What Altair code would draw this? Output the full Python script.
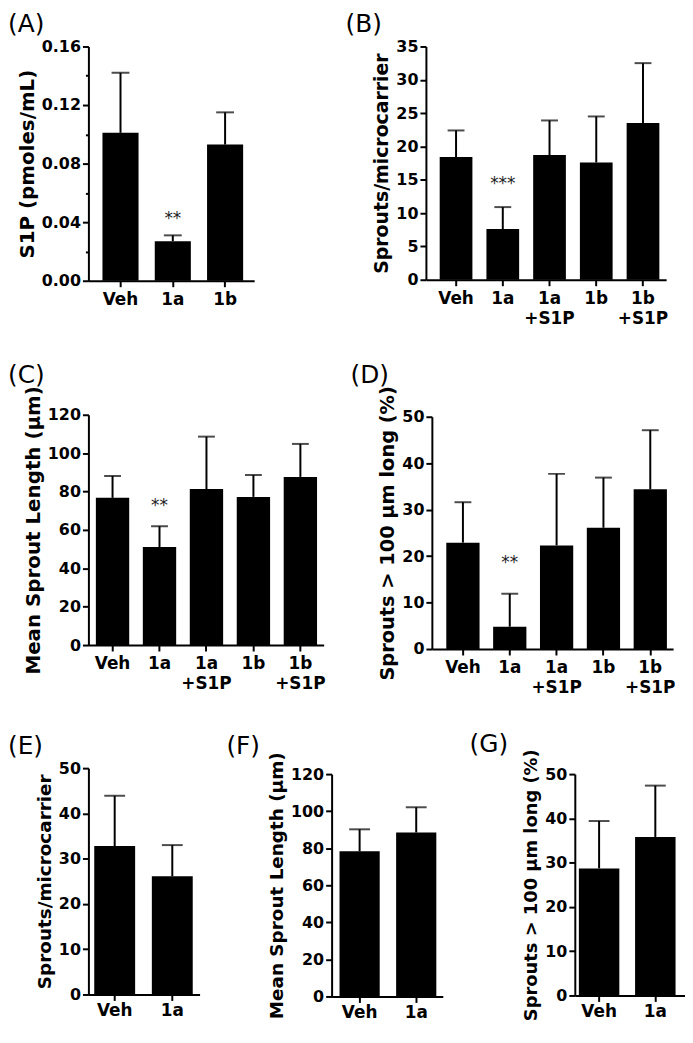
import altair as alt
import pandas as pd

FONT = "DejaVu Sans"

# ---------------- data ----------------
A_groups = ["Veh", "1a", "1b"]
A_mean = [0.101, 0.027, 0.093]
A_err = [0.041, 0.004, 0.022]
A_sig = ["", "**", ""]
A_ticks = [0, 0.04, 0.08, 0.12, 0.16]
A_minor = [0.02, 0.06, 0.10, 0.14]

S_groups = ["Veh", "1a", "1a\n+S1P", "1b", "1b\n+S1P"]

B_mean = [18.4, 7.6, 18.7, 17.6, 23.5]
B_err = [4.0, 3.3, 5.2, 6.9, 9.0]
B_sig = ["", "***", "", "", ""]
B_ticks = [0, 5, 10, 15, 20, 25, 30, 35]

C_mean = [76.7, 51.1, 81.3, 77.2, 87.6]
C_err = [11.4, 10.8, 27.3, 11.4, 17.2]
C_sig = ["", "**", "", "", ""]
C_ticks = [0, 20, 40, 60, 80, 100, 120]

D_mean = [22.9, 4.8, 22.3, 26.1, 34.4]
D_err = [8.7, 7.1, 15.4, 10.8, 12.7]
D_sig = ["", "**", "", "", ""]
D_ticks = [0, 10, 20, 30, 40, 50]

V_groups = ["Veh", "1a"]
E_mean = [32.8, 26.1]
E_err = [11.1, 6.9]
F_mean = [78.3, 88.5]
F_err = [11.9, 13.6]
G_mean = [28.7, 35.8]
G_err = [10.7, 11.6]
V_sig = ["", ""]
E_ticks = [0, 10, 20, 30, 40, 50]
F_ticks = [0, 20, 40, 60, 80, 100, 120]
G_ticks = [0, 10, 20, 30, 40, 50]

T_S1P = "S1P (pmoles/mL)"
T_SPR = "Sprouts/microcarrier"
T_LEN = "Mean Sprout Length (\u03bcm)"
T_PCT = "Sprouts > 100 \u03bcm long (%)"

NO_PAD = {"left": 0, "top": 0, "right": 0, "bottom": 0}


def panel(letter, groups, mean, err, sig, ytitle, ticks, fmt, width, height,
          pad_in, pad_out, align, cap, lx, ly, star_dy=-12.0,
          y_range=None, minor=None, ytitle_size=20, x_lpad=5):
    upper = [m + e for m, e in zip(mean, err)]
    df = pd.DataFrame({"group": groups, "mean": mean, "upper": upper, "sig": sig})
    sc_kw = dict(domain=[ticks[0], ticks[-1]], nice=False, zero=True)
    if y_range is not None:
        sc_kw["range"] = y_range
    yscale = alt.Scale(**sc_kw)
    xenc = alt.X(
        "group:N", sort=groups,
        scale=alt.Scale(paddingInner=pad_in, paddingOuter=pad_out, align=align),
        axis=alt.Axis(title=None, labelAngle=0, labelPadding=x_lpad,
                      labelExpr="split(datum.label, '\\n')"),
    )
    yaxis = alt.Axis(title=ytitle, values=ticks, format=fmt,
                     titleFontSize=ytitle_size)
    base = alt.Chart(df)
    bars = base.mark_bar(color="black").encode(
        x=xenc, y=alt.Y("mean:Q", scale=yscale, axis=yaxis))
    if minor:
        rule_axis = alt.Axis(values=minor, labels=False, domain=False,
                             tickSize=3, title=None, orient="left")
        other_axis = None
    else:
        rule_axis = yaxis
        other_axis = yaxis
    rule = base.mark_rule(color="black", strokeWidth=2).encode(
        x=xenc, y=alt.Y("mean:Q", scale=yscale, axis=rule_axis), y2="upper:Q")
    capm = base.mark_tick(color="black", thickness=2, size=cap).encode(
        x=xenc, y=alt.Y("upper:Q", scale=yscale, axis=other_axis))
    layers = [bars, rule, capm]
    if any(s for s in sig):
        stars = base.transform_filter("datum.sig != ''").mark_text(
            font=FONT, fontSize=17, color="#222222",
            baseline="alphabetic", dy=star_dy).encode(
            x=xenc, y=alt.Y("upper:Q", scale=yscale, axis=other_axis),
            text="sig:N")
        layers.append(stars)
    label = alt.Chart(alt.Data(values=[{"panel": letter}])).mark_text(
        font=FONT, fontSize=25, fontWeight="normal", color="black",
        align="left", baseline="top").encode(
        x=alt.value(lx), y=alt.value(ly), text="panel:N")
    layers.append(label)
    ch = alt.layer(*layers).properties(width=width, height=height)
    if minor:
        ch = ch.resolve_axis(y="independent")
    return ch


A = panel("(A)", A_groups, A_mean, A_err, A_sig, T_S1P, A_ticks, ".2f",
          167, 236, 0.31, 0.24, 0.56, 18, -81, -35, star_dy=-11.5,
          minor=A_minor, ytitle_size=20)
B = panel("(B)", S_groups, B_mean, B_err, B_sig, T_SPR, B_ticks, "d",
          242, 235, 0.30, 0.22, 0.67, 17, -81, -35, star_dy=-18.5,
          ytitle_size=19)
C = panel("(C)", S_groups, C_mean, C_err, C_sig, T_LEN, C_ticks, "d",
          237, 232, 0.29, 0.15, 0.53, 17, -81, -52, star_dy=-15.5,
          ytitle_size=20)
D = panel("(D)", S_groups, D_mean, D_err, D_sig, T_PCT, D_ticks, "d",
          243, 236, 0.29, 0.22, 0.70, 17, -82, -52, star_dy=-25.5,
          y_range=[236, 2], ytitle_size=19.5)
E = panel("(E)", V_groups, E_mean, E_err, V_sig, T_SPR, E_ticks, "d",
          112, 228, 0.29, 0.11, 0.46, 21, -81, -34, ytitle_size=18.5,
          x_lpad=2)
F = panel("(F)", V_groups, F_mean, F_err, V_sig, T_LEN, F_ticks, "d",
          112, 230, 0.29, 0.127, 0.55, 21, -106, -34, y_range=[230, 6],
          ytitle_size=18.5, x_lpad=2)
G = panel("(G)", V_groups, G_mean, G_err, V_sig, T_PCT, G_ticks, "d",
          111, 229, 0.28, 0.12, 0.30, 21, -106, -36, y_range=[229, 6],
          ytitle_size=18, x_lpad=2)

row1 = alt.hconcat(A, B, spacing=173, bounds="flush")
row2 = alt.hconcat(C, D, spacing=109, bounds="flush")
row3 = alt.hconcat(E, F, G, spacing=133, bounds="flush")

lower = alt.vconcat(row2, row3, spacing=356, bounds="flush")

chart = (
    alt.vconcat(row1, lower, spacing=371, bounds="flush")
    .properties(padding=NO_PAD)
    .configure(padding=NO_PAD)
    .configure_view(stroke=None)
    .configure_axis(domainColor="black", domainWidth=2, tickColor="black",
                    tickWidth=2, tickSize=6, labelFont=FONT,
                    labelFontWeight="bold", labelColor="black", titleFont=FONT,
                    titleFontWeight="bold", titleColor="black", grid=False,
                    labelPadding=2, titlePadding=4)
    .configure_axisX(labelFontSize=17, labelLineHeight=20)
    .configure_axisY(labelFontSize=16)
)

chart.save("out.html", embed_options={"renderer": "svg", "actions": False})
